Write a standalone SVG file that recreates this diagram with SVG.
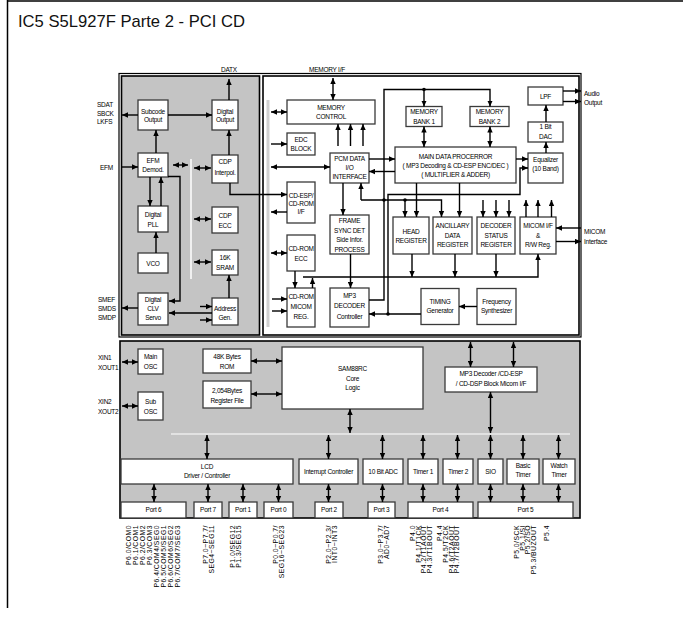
<svg xmlns="http://www.w3.org/2000/svg" width="683" height="618" viewBox="0 0 683 618">
<defs>
<marker id="ah" viewBox="0 0 6 6" refX="6" refY="3" markerWidth="6" markerHeight="6" markerUnits="userSpaceOnUse" orient="auto-start-reverse"><path d="M0,0.3 L6,3 L0,5.7z" fill="#000"/></marker>
</defs>
<style>
.t{font-family:"Liberation Sans",Arial,sans-serif;font-size:6.5px;letter-spacing:-0.25px;text-anchor:middle;fill:#000}
.l{font-family:"Liberation Sans",Arial,sans-serif;font-size:6.5px;letter-spacing:-0.25px;text-anchor:start;fill:#000}
.p{font-family:"Liberation Sans",Arial,sans-serif;font-size:6.8px;letter-spacing:0.5px;text-anchor:end;fill:#000}
.b{fill:#fff;stroke:#3a3a3a;stroke-width:1.3}
.g{fill:#c4c4c4;stroke:#000;stroke-width:1.6}
.c{stroke:#000;stroke-width:1.4;fill:none}
.a{marker-end:url(#ah)}
.d{marker-start:url(#ah);marker-end:url(#ah)}
.dot{fill:#000}
</style>
<rect width="683" height="618" fill="#fff"/>
<g id="frame">
<line x1="7" y1="1" x2="683" y2="1" stroke="#000" stroke-width="1.5"/>
<line x1="7.5" y1="0" x2="7.5" y2="608" stroke="#000" stroke-width="1.5"/>
<text x="18" y="27" style="font-family:'Liberation Sans',Arial,sans-serif;font-size:16.6px;fill:#111">IC5 S5L927F Parte 2 - PCI CD</text>
</g>
<g id="blocks">
<rect x="119" y="73.5" width="462" height="263.5" fill="none" stroke="#000" stroke-width="1.2"/>
<rect x="121.5" y="76" width="138" height="259" class="g"/>
<rect x="263" y="76" width="316" height="259" fill="#fff" stroke="#000" stroke-width="1.6"/>
<rect x="120" y="341" width="460" height="177" class="g"/>
<line x1="191" y1="159" x2="191" y2="279" stroke="#fff" stroke-width="1.5"/>
<line x1="268" y1="100" x2="268" y2="327" stroke="#cfcfcf" stroke-width="3"/>
<line x1="171" y1="434" x2="570" y2="434" stroke="#e2e2e2" stroke-width="2"/>
</g>
<g id="labels">
<text class="t" x="229" y="72">DATX</text>
<text class="t" x="327" y="72">MEMORY I/F</text>
<text class="l" x="97" y="107">SDAT</text>
<text class="l" x="97" y="115.5">SBCK</text>
<text class="l" x="97" y="124">LKFS</text>
<text class="l" x="100" y="170">EFM</text>
<text class="l" x="98" y="301.5">SMEF</text>
<text class="l" x="98" y="310.5">SMDS</text>
<text class="l" x="98" y="319.5">SMDP</text>
<text class="l" x="584" y="95.5">Audio</text>
<text class="l" x="584" y="105">Output</text>
<text class="l" x="584" y="234">MICOM</text>
<text class="l" x="584" y="244">Interface</text>
<text class="l" x="98" y="360">XIN1</text>
<text class="l" x="98" y="369.5">XOUT1</text>
<text class="l" x="98" y="404">XIN2</text>
<text class="l" x="98" y="413.5">XOUT2</text>
</g>
<g id="subcode"><rect class="b" x="138" y="100" width="30" height="30"/><text class="t" x="153" y="113.5">Subcode</text><text class="t" x="153" y="122">Output</text></g>
<g id="digout"><rect class="b" x="212" y="100" width="26" height="30"/><text class="t" x="225" y="113.5">Digital</text><text class="t" x="225" y="122">Output</text></g>
<g id="efm"><rect class="b" x="138" y="153" width="30" height="24"/><text class="t" x="153" y="162.5">EFM</text><text class="t" x="153" y="172">Demod.</text></g>
<g id="cdpint"><rect class="b" x="212" y="155" width="26" height="28"/><text class="t" x="225" y="164">CDP</text><text class="t" x="225" y="174.5">Interpol.</text></g>
<g id="pll"><rect class="b" x="138" y="206" width="30" height="26"/><text class="t" x="153" y="217">Digital</text><text class="t" x="153" y="227">PLL</text></g>
<g id="cdpecc"><rect class="b" x="212" y="207" width="26" height="26"/><text class="t" x="225" y="218">CDP</text><text class="t" x="225" y="227.5">ECC</text></g>
<g id="vco"><rect class="b" x="138" y="253" width="30" height="20"/><text class="t" x="153" y="265.5">VCO</text></g>
<g id="sram"><rect class="b" x="212" y="250" width="26" height="25"/><text class="t" x="225" y="260">16K</text><text class="t" x="225" y="270">SRAM</text></g>
<g id="clv"><rect class="b" x="138" y="293" width="30" height="32"/><text class="t" x="153" y="301.5">Digital</text><text class="t" x="153" y="310.5">CLV</text><text class="t" x="153" y="319.5">Servo</text></g>
<g id="addr"><rect class="b" x="212" y="298" width="26" height="27"/><text class="t" x="225" y="310.5">Address</text><text class="t" x="225" y="320">Gen.</text></g>
<g id="memctl"><rect class="b" x="287" y="100" width="88" height="24"/><text class="t" x="331" y="110">MEMORY</text><text class="t" x="331" y="118.5">CONTROL</text></g>
<g id="edc"><rect class="b" x="287" y="133" width="28" height="22"/><text class="t" x="301" y="141.5">EDC</text><text class="t" x="301" y="151">BLOCK</text></g>
<g id="pcm"><rect class="b" x="330" y="153" width="39" height="30"/><text class="t" x="349.5" y="160.5">PCM DATA</text><text class="t" x="349.5" y="169.5">I/O</text><text class="t" x="349.5" y="179">INTERFACE</text></g>
<g id="cdesp"><rect class="b" x="287" y="182" width="28" height="41"/><text class="t" x="301" y="197.5">CD-ESP/</text><text class="t" x="301" y="205.5">CD-ROM</text><text class="t" x="301" y="214">I/F</text></g>
<g id="frame-sync"><rect class="b" x="330" y="215" width="39" height="39"/><text class="t" x="349.5" y="223">FRAME</text><text class="t" x="349.5" y="232.5">SYNC DET</text><text class="t" x="349.5" y="242">Side Infor.</text><text class="t" x="349.5" y="251.5">PROCESS</text></g>
<g id="cdecc"><rect class="b" x="287" y="235" width="28" height="36"/><text class="t" x="301" y="250.5">CD-ROM</text><text class="t" x="301" y="260.5">ECC</text></g>
<g id="micomreg"><rect class="b" x="287" y="288" width="28" height="39"/><text class="t" x="301" y="298.5">CD-ROM</text><text class="t" x="301" y="308.5">MICOM</text><text class="t" x="301" y="318.5">REG.</text></g>
<g id="mp3dec"><rect class="b" x="330" y="288" width="39" height="39"/><text class="t" x="349.5" y="297.5">MP3</text><text class="t" x="349.5" y="308">DECODER</text><text class="t" x="349.5" y="318.5">Controller</text></g>
<g id="mb1"><rect class="b" x="406" y="106.5" width="36" height="20"/><text class="t" x="424" y="114">MEMORY</text><text class="t" x="424" y="123.5">BANK 1</text></g>
<g id="mb2"><rect class="b" x="470" y="106.5" width="39" height="20"/><text class="t" x="489.5" y="114">MEMORY</text><text class="t" x="489.5" y="123.5">BANK 2</text></g>
<g id="main"><rect class="b" x="395" y="147" width="121" height="36"/><text class="t" x="455.5" y="158.5">MAIN DATA PROCERROR</text><text class="t" x="455.5" y="167.5">( MP3 Decoding &amp; CD-ESP ENC/DEC )</text><text class="t" x="455.5" y="176.5">( MULTIFLIER &amp; ADDER)</text></g>
<g id="head"><rect class="b" x="393" y="217" width="36" height="37"/><text class="t" x="411" y="233.5">HEAD</text><text class="t" x="411" y="243">REGISTER</text></g>
<g id="anc"><rect class="b" x="433" y="217" width="39" height="37"/><text class="t" x="452.5" y="228">ANCILLARY</text><text class="t" x="452.5" y="237.5">DATA</text><text class="t" x="452.5" y="247">REGISTER</text></g>
<g id="dsr"><rect class="b" x="477" y="217" width="38" height="37"/><text class="t" x="496" y="228">DECODER</text><text class="t" x="496" y="237.5">STATUS</text><text class="t" x="496" y="247">REGISTER</text></g>
<g id="micomif"><rect class="b" x="520" y="217" width="36" height="37"/><text class="t" x="538" y="228">MICOM I/F</text><text class="t" x="538" y="237.5">&amp;</text><text class="t" x="538" y="247">R/W Reg.</text></g>
<g id="timing"><rect class="b" x="421" y="288.5" width="38" height="36"/><text class="t" x="440" y="303.5">TIMING</text><text class="t" x="440" y="313">Generator</text></g>
<g id="freq"><rect class="b" x="477" y="288.5" width="39" height="36"/><text class="t" x="496.5" y="303.5">Frequency</text><text class="t" x="496.5" y="313">Synthesizer</text></g>
<g id="eq"><rect class="b" x="528" y="153" width="35" height="30"/><text class="t" x="545.5" y="161.5">Equalizer</text><text class="t" x="545.5" y="170.5">(10 Band)</text></g>
<g id="dac"><rect class="b" x="528" y="122" width="35" height="20"/><text class="t" x="545.5" y="129">1 Bit</text><text class="t" x="545.5" y="138.5">DAC</text></g>
<g id="lpf"><rect class="b" x="528" y="87" width="35" height="18"/><text class="t" x="545.5" y="98.5">LPF</text></g>
<g id="mainosc"><rect class="b" x="138" y="349" width="25" height="25"/><text class="t" x="150.5" y="359">Main</text><text class="t" x="150.5" y="369">OSC</text></g>
<g id="subosc"><rect class="b" x="138" y="392" width="25" height="28"/><text class="t" x="150.5" y="404">Sub</text><text class="t" x="150.5" y="413.5">OSC</text></g>
<g id="rom"><rect class="b" x="203" y="349" width="48" height="24"/><text class="t" x="227" y="359">48K Bytes</text><text class="t" x="227" y="368.5">ROM</text></g>
<g id="regfile"><rect class="b" x="203" y="381" width="48" height="27"/><text class="t" x="227" y="392.5">2,054Bytes</text><text class="t" x="227" y="402.5">Register File</text></g>
<g id="sam"><rect class="b" x="282" y="347" width="141" height="62"/><text class="t" x="352.5" y="370.5">SAM88RC</text><text class="t" x="352.5" y="380.5">Core</text><text class="t" x="352.5" y="389.5">Logic</text></g>
<g id="mp3blk"><rect class="b" x="445" y="367" width="92" height="25"/><text class="t" x="491" y="375.5">MP3 Decoder /CD-ESP</text><text class="t" x="491" y="385.5">/ CD-DSP Block Micom I/F</text></g>
<g id="lcd"><rect class="b" x="121" y="459" width="172" height="25"/><text class="t" x="207" y="468.5">LCD</text><text class="t" x="207" y="477.5">Driver / Controller</text></g>
<g id="intc"><rect class="b" x="299" y="459" width="59" height="25"/><text class="t" x="328.5" y="474">Interrupt Controller</text></g>
<g id="adc"><rect class="b" x="363" y="459" width="40" height="25"/><text class="t" x="383" y="474">10 Bit ADC</text></g>
<g id="timer1"><rect class="b" x="408" y="459" width="30" height="25"/><text class="t" x="423" y="474">Timer 1</text></g>
<g id="timer2"><rect class="b" x="443" y="459" width="30" height="25"/><text class="t" x="458" y="474">Timer 2</text></g>
<g id="sio"><rect class="b" x="478" y="459" width="25" height="25"/><text class="t" x="490.5" y="474">SIO</text></g>
<g id="basic"><rect class="b" x="507" y="459" width="32" height="25"/><text class="t" x="523" y="468">Basic</text><text class="t" x="523" y="477">Timer</text></g>
<g id="watch"><rect class="b" x="543" y="459" width="32" height="25"/><text class="t" x="559" y="468">Watch</text><text class="t" x="559" y="477">Timer</text></g>
<g id="port6"><rect class="b" x="121" y="502" width="65" height="16"/><text class="t" x="153.5" y="512">Port 6</text></g>
<g id="port7"><rect class="b" x="194" y="502" width="28" height="16"/><text class="t" x="208" y="512">Port 7</text></g>
<g id="port1"><rect class="b" x="229" y="502" width="28" height="16"/><text class="t" x="243" y="512">Port 1</text></g>
<g id="port0"><rect class="b" x="264" y="502" width="29" height="16"/><text class="t" x="278.5" y="512">Port 0</text></g>
<g id="port2"><rect class="b" x="315" y="502" width="28" height="16"/><text class="t" x="329" y="512">Port 2</text></g>
<g id="port3"><rect class="b" x="368" y="502" width="27" height="16"/><text class="t" x="381.5" y="512">Port 3</text></g>
<g id="port4"><rect class="b" x="408" y="502" width="65" height="16"/><text class="t" x="440.5" y="512">Port 4</text></g>
<g id="port5"><rect class="b" x="478" y="502" width="95" height="16"/><text class="t" x="525.5" y="512">Port 5</text></g>
<g id="portlabels">
<text class="p" transform="translate(131,525) rotate(-90)">P6.0/COM0</text>
<text class="p" transform="translate(138,525) rotate(-90)">P6.1/COM1</text>
<text class="p" transform="translate(145,525) rotate(-90)">P6.2/COM2</text>
<text class="p" transform="translate(152,525) rotate(-90)">P6.3/COM3</text>
<text class="p" transform="translate(159,525) rotate(-90)">P6.4/COM4/SEG0</text>
<text class="p" transform="translate(166,525) rotate(-90)">P6.5/COM5/SEG1</text>
<text class="p" transform="translate(173,525) rotate(-90)">P6.6/COM6/SEG2</text>
<text class="p" transform="translate(180,525) rotate(-90)">P6.7/COM7/SEG3</text>
<text class="p" transform="translate(207.5,525) rotate(-90)">P7.0~P7.7/</text>
<text class="p" transform="translate(213.5,525) rotate(-90)">SEG4~SEG11</text>
<text class="p" transform="translate(234.5,525) rotate(-90)">P1.0/SEG12</text>
<text class="p" transform="translate(240.5,525) rotate(-90)">P1.3/SEG15</text>
<text class="p" transform="translate(277.5,525) rotate(-90)">P0.0~P0.7/</text>
<text class="p" transform="translate(283.5,525) rotate(-90)">SEG16~SEG23</text>
<text class="p" transform="translate(331,525) rotate(-90)">P2.0~P2.3/</text>
<text class="p" transform="translate(337,525) rotate(-90)">INT0~INT3</text>
<text class="p" transform="translate(382.5,525) rotate(-90)">P3.0~P3.7/</text>
<text class="p" transform="translate(388.5,525) rotate(-90)">AD0~AD7</text>
<text class="p" transform="translate(415,525) rotate(-90)">P4.0</text>
<text class="p" transform="translate(420.5,525) rotate(-90)">P4.1/T1CK</text>
<text class="p" transform="translate(426,525) rotate(-90)">P4.2/T1AOUT</text>
<text class="p" transform="translate(431.5,525) rotate(-90)">P4.3/T1BOUT</text>
<text class="p" transform="translate(442,525) rotate(-90)">P4.4</text>
<text class="p" transform="translate(448,525) rotate(-90)">P4.5/T2CK</text>
<text class="p" transform="translate(453.5,525) rotate(-90)">P4.6/T2AOUT</text>
<text class="p" transform="translate(459,525) rotate(-90)">P4.7/T2BOUT</text>
<text class="p" transform="translate(519,525) rotate(-90)">P5.0/SCK</text>
<text class="p" transform="translate(524.5,525) rotate(-90)">P5.1/SI</text>
<text class="p" transform="translate(530,525) rotate(-90)">P5.2/SO</text>
<text class="p" transform="translate(535.5,525) rotate(-90)">P5.3/BUZOUT</text>
<text class="p" transform="translate(549,525) rotate(-90)">P5.4</text>
</g>
<g id="connectors">
<line class="c a" x1="229" y1="100" x2="229" y2="79"/>
<line class="c a" x1="138" y1="115" x2="122" y2="115"/>
<line class="c a" x1="168" y1="115" x2="212" y2="115"/>
<line class="c a" x1="121" y1="167" x2="138" y2="167"/>
<line class="c a" x1="156" y1="153" x2="156" y2="130"/>
<line class="c d" x1="173" y1="165" x2="188" y2="165"/>
<line class="c d" x1="194" y1="168" x2="211" y2="168"/>
<line class="c a" x1="229" y1="155" x2="229" y2="130"/>
<polyline class="c a" points="230,183 230,194.5 287,194.5"/>
<line class="c a" x1="150" y1="177" x2="150" y2="206"/>
<line class="c a" x1="161" y1="206" x2="161" y2="177"/>
<line class="c a" x1="156" y1="253" x2="156" y2="232"/>
<line class="c d" x1="194" y1="219" x2="211" y2="219"/>
<line class="c d" x1="194" y1="262" x2="211" y2="262"/>
<line class="c a" x1="229" y1="298" x2="229" y2="275"/>
<polyline class="c a" points="168,176.5 180,176.5 180,301 169,301"/>
<line class="c a" x1="212" y1="313" x2="169" y2="313"/>
<line class="c a" x1="200" y1="306.5" x2="212" y2="306.5"/>
<line class="c a" x1="200" y1="320" x2="212" y2="320"/>
<line class="c a" x1="138" y1="308" x2="122" y2="308"/>
<line class="c d" x1="333" y1="78" x2="333" y2="100"/>
<line class="c d" x1="271" y1="112" x2="287" y2="112"/>
<line class="c a" x1="271" y1="144" x2="287" y2="144"/>
<line class="c a" x1="338" y1="146" x2="338" y2="124"/>
<line class="c a" x1="350.5" y1="146" x2="350.5" y2="124"/>
<line class="c a" x1="363" y1="146" x2="363" y2="124"/>
<line class="c d" x1="271" y1="167" x2="330" y2="167"/>
<line class="c a" x1="287" y1="212" x2="271" y2="212"/>
<line class="c a" x1="343" y1="183" x2="343" y2="215"/>
<polyline class="c a" points="361,200 441.5,200 441.5,217"/>
<line class="c a" x1="361" y1="200" x2="361" y2="183"/>
<line class="c a" x1="405" y1="200" x2="405" y2="217"/>
<circle class="dot" cx="384" cy="200" r="1.8"/>
<circle class="dot" cx="405" cy="200" r="1.8"/>
<line class="c a" x1="416.5" y1="183" x2="416.5" y2="217"/>
<line class="c a" x1="459.5" y1="183" x2="459.5" y2="217"/>
<line class="c a" x1="483" y1="200" x2="483" y2="217"/>
<line class="c a" x1="496" y1="200" x2="496" y2="217"/>
<line class="c a" x1="509" y1="200" x2="509" y2="217"/>
<line class="c a" x1="526" y1="217" x2="526" y2="200"/>
<line class="c a" x1="538" y1="217" x2="538" y2="200"/>
<line class="c a" x1="551.5" y1="217" x2="551.5" y2="200"/>
<line class="c a" x1="581" y1="228" x2="556" y2="228"/>
<line class="c a" x1="556" y1="241.5" x2="581" y2="241.5"/>
<line class="c a" x1="412" y1="254" x2="412" y2="277"/>
<line class="c a" x1="455" y1="254" x2="455" y2="277"/>
<line class="c a" x1="496" y1="254" x2="496" y2="277"/>
<polyline class="c a" points="303,277 538,277 538,254"/>
<line class="c a" x1="295" y1="271" x2="295" y2="288"/>
<line class="c a" x1="312.5" y1="288" x2="312.5" y2="278"/>
<line class="c a" x1="272" y1="299" x2="287" y2="299"/>
<line class="c a" x1="272" y1="311" x2="287" y2="311"/>
<line class="c d" x1="271" y1="253" x2="287" y2="253"/>
<line class="c a" x1="350.5" y1="254" x2="350.5" y2="288"/>
<polyline class="c a" points="369,300 384,300 384,89.5 490,89.5 490,106.5"/>
<line class="c a" x1="424" y1="89.5" x2="424" y2="106.5"/>
<circle class="dot" cx="424" cy="89.5" r="1.8"/>
<polyline class="c a" points="421,314 388,314 388,194.5 520,194.5 520,168 528,168"/>
<line class="c a" x1="388" y1="314" x2="369" y2="314"/>
<circle class="dot" cx="388" cy="314" r="1.8"/>
<line class="c a" x1="477" y1="306.5" x2="459" y2="306.5"/>
<line class="c a" x1="516" y1="159" x2="528" y2="159"/>
<line class="c a" x1="369" y1="159" x2="395" y2="159"/>
<line class="c a" x1="395" y1="171.5" x2="369" y2="171.5"/>
<line class="c d" x1="424" y1="126.5" x2="424" y2="147"/>
<line class="c d" x1="490" y1="126.5" x2="490" y2="147"/>
<line class="c a" x1="546" y1="153" x2="546" y2="142"/>
<line class="c a" x1="546" y1="122" x2="546" y2="105"/>
<line class="c a" x1="563" y1="91" x2="581" y2="91"/>
<line class="c a" x1="563" y1="101.5" x2="581" y2="101.5"/>
<line class="c d" x1="122" y1="362" x2="138" y2="362"/>
<line class="c d" x1="122" y1="406" x2="138" y2="406"/>
<line class="c d" x1="251" y1="361" x2="282" y2="361"/>
<line class="c d" x1="251" y1="394" x2="282" y2="394"/>
<line class="c d" x1="350" y1="409" x2="350" y2="433"/>
<line class="c d" x1="470.5" y1="342" x2="470.5" y2="367"/>
<line class="c d" x1="513.5" y1="342" x2="513.5" y2="367"/>
<line class="c d" x1="490.5" y1="392" x2="490.5" y2="433"/>
<line class="c d" x1="207" y1="435" x2="207" y2="459"/>
<line class="c d" x1="328.5" y1="435" x2="328.5" y2="459"/>
<line class="c d" x1="382.5" y1="435" x2="382.5" y2="459"/>
<line class="c d" x1="423" y1="435" x2="423" y2="459"/>
<line class="c d" x1="457.5" y1="435" x2="457.5" y2="459"/>
<line class="c d" x1="490.5" y1="435" x2="490.5" y2="459"/>
<line class="c d" x1="523" y1="435" x2="523" y2="459"/>
<line class="c d" x1="558.5" y1="435" x2="558.5" y2="459"/>
<line class="c d" x1="154" y1="484" x2="154" y2="502"/>
<line class="c d" x1="208" y1="484" x2="208" y2="502"/>
<line class="c d" x1="243" y1="484" x2="243" y2="502"/>
<line class="c d" x1="278.5" y1="484" x2="278.5" y2="502"/>
<line class="c d" x1="328.5" y1="484" x2="328.5" y2="502"/>
<line class="c d" x1="382.5" y1="484" x2="382.5" y2="502"/>
<line class="c d" x1="423" y1="484" x2="423" y2="502"/>
<line class="c d" x1="457.5" y1="484" x2="457.5" y2="502"/>
<line class="c d" x1="490.5" y1="484" x2="490.5" y2="502"/>
<line class="c d" x1="523" y1="484" x2="523" y2="502"/>
<line class="c d" x1="558.5" y1="484" x2="558.5" y2="502"/>
</g>
</svg>
